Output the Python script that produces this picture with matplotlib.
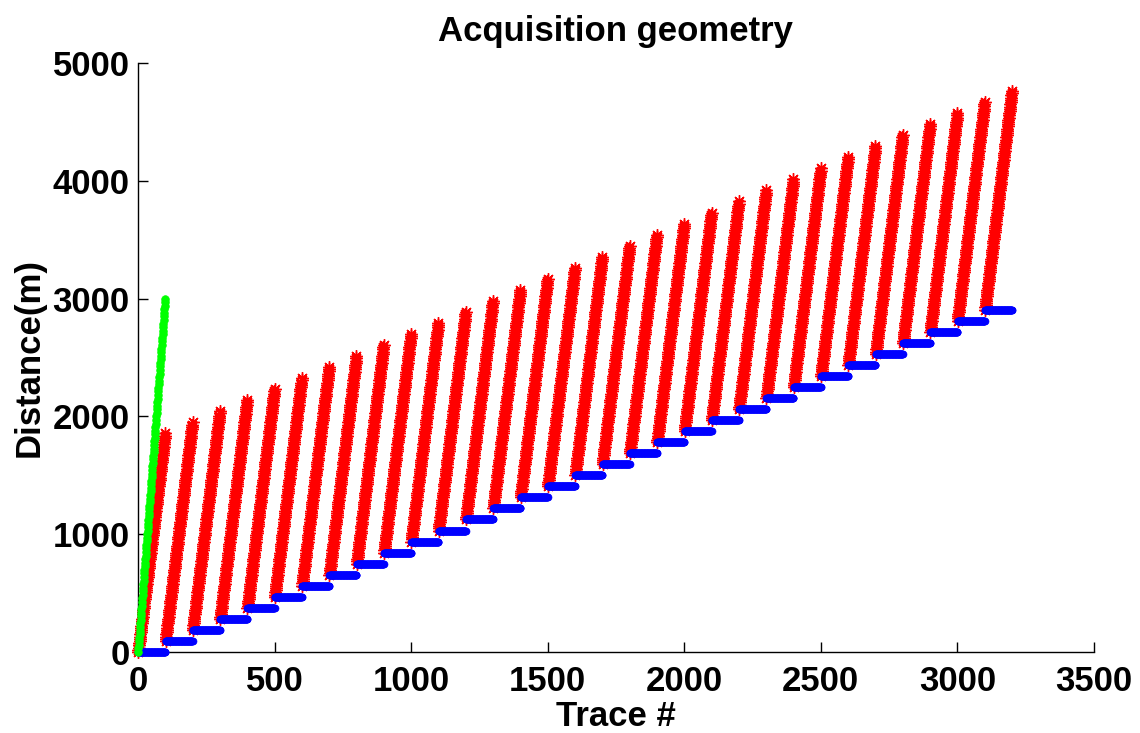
"""
Acquisition geometry - shot / receiver layout
"""
import numpy as np
import matplotlib
matplotlib.use('Agg')
import matplotlib.pyplot as plt

# source positions (m), one per shot
source_pos = [0, 94, 188, 281, 375, 469, 563, 656, 750, 844, 938, 1031,
              1125, 1219, 1313, 1406, 1500, 1594, 1688, 1781, 1875, 1969,
              2063, 2156, 2250, 2344, 2438, 2531, 2625, 2719, 2813, 2906]
traces_per_shot = 100
rec_first_offset = 0.0      # first receiver offset (m)
rec_last_offset = 1856.0    # last receiver offset (m)
# green line: first 100 traces, 0 -> 3000 m
green_start = 0.0
green_end = 3000.0

xticks = [0, 500, 1000, 1500, 2000, 2500, 3000, 3500]
yticks = [0, 1000, 2000, 3000, 4000, 5000]

plt.rcParams['font.family'] = ['Liberation Sans', 'DejaVu Sans']
plt.rcParams['font.weight'] = 'bold'

fig = plt.figure(figsize=(11.4, 7.33), dpi=100)
ax = fig.add_axes([0.121, 0.1105, 0.8386, 0.8035])

asterisk = (8, 2, 0)
offsets = np.linspace(rec_first_offset, rec_last_offset, traces_per_shot)

# receivers
for i, s in enumerate(source_pos):
    tr = np.arange(i * traces_per_shot + 1, (i + 1) * traces_per_shot + 1)
    ax.plot(tr, s + offsets, linestyle='none', marker=asterisk, ms=9,
            mec='red', mfc='red', mew=1.0, clip_on=False, zorder=2)

# sources
for i, s in enumerate(source_pos):
    tr = np.arange(i * traces_per_shot + 1, (i + 1) * traces_per_shot + 1)
    ax.plot(tr, np.full(traces_per_shot, s), linestyle='none', marker='o',
            ms=5, mfc='blue', mec='blue', mew=0.5, clip_on=False, zorder=3)

# green
tr0 = np.arange(1, traces_per_shot + 1)
ax.plot(tr0, np.linspace(green_start, green_end, traces_per_shot),
        linestyle='none', marker='o', ms=5.5, mfc='#00ff00', mec='#00ff00',
        mew=0.5, clip_on=False, zorder=4)

ax.set_xlim(0, 3500)
ax.set_ylim(0, 5000)
ax.set_xticks(xticks)
ax.set_yticks(yticks)
ax.spines['top'].set_visible(False)
ax.spines['right'].set_visible(False)
for sp in ['left', 'bottom']:
    ax.spines[sp].set_linewidth(1.0)
ax.tick_params(direction='in', length=7, width=1.0, labelsize=25)
ax.tick_params(axis='x', pad=9)
ax.tick_params(axis='y', pad=6)
for lbl in ax.get_xticklabels() + ax.get_yticklabels():
    lbl.set_fontweight('bold')

ax.set_xlabel('Trace #', fontsize=25, fontweight='bold', labelpad=2)
ax.set_ylabel('Distance(m)', fontsize=25, fontweight='bold', labelpad=5)
ax.set_title('Acquisition geometry', fontsize=25, fontweight='bold', pad=16)

fig.savefig('out.png', dpi=100)
plt.close(fig)
